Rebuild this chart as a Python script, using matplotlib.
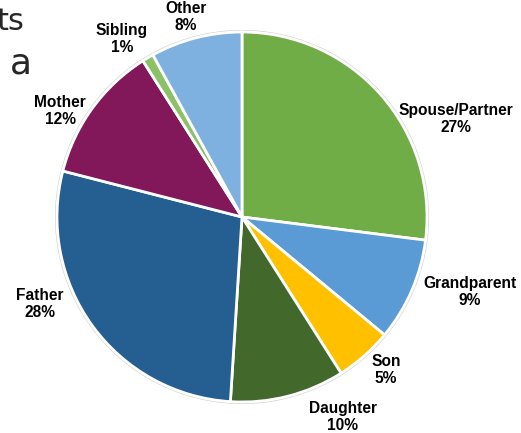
import matplotlib.pyplot as plt
from matplotlib.patches import Circle

# relationship of the person, share in percent
labels = ['Spouse/Partner', 'Grandparent', 'Son', 'Daughter', 'Father', 'Mother', 'Sibling', 'Other']
shares = [27, 9, 5, 10, 28, 12, 1, 8]
colors = ['#70AD47', '#5B9BD5', '#FFC000', '#43682B', '#255E91', '#82175A', '#8CC168', '#7EB1E0']

# label anchor points (pixels from top-left)
label_pos = [(456, 119), (470, 292), (386, 370), (343, 417), (40, 304), (60, 111), (122, 39), (186, 17)]

W, H = 521, 433
fig = plt.figure(figsize=(W / 100, H / 100), dpi=100)
ax = fig.add_axes([0, 0, 1, 1])

cx, cy, r = 242, H - 217, 185
ax.add_patch(Circle((cx, cy), r + 1.5, fill=False, ec='#d4d4d4', lw=0.8))
ax.pie(shares, colors=colors, startangle=90, counterclock=False,
       center=(cx, cy), radius=r, frame=True,
       wedgeprops=dict(edgecolor='white', linewidth=2))
ax.set_xlim(0, W)
ax.set_ylim(0, H)
ax.set_aspect('equal')
ax.axis('off')

for name, val, (x, y) in zip(labels, shares, label_pos):
    ax.text(x, H - y, f'{name}\n{val}%', ha='center', va='center',
            fontsize=11.2, fontweight='bold', family='Liberation Sans',
            linespacing=1.15, color='black')

# pieces of the slide title that run off the left edge
ax.text(24, H - 21, 'ts', ha='right', va='center', fontsize=22, color='#262626', family='DejaVu Sans')
ax.text(32, H - 64, 'a', ha='right', va='center', fontsize=26, color='#262626', family='DejaVu Sans')

fig.savefig('out.png', dpi=100)
